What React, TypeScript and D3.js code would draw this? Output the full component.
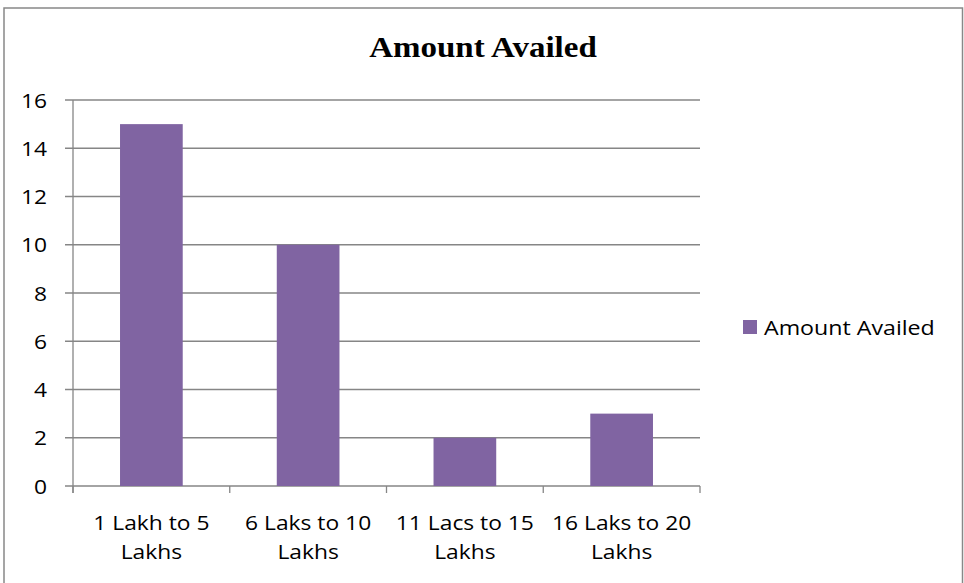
import React from "react";
import * as d3 from "d3";

const categories = ["1 Lakh to 5 Lakhs", "6 Laks to 10 Lakhs", "11 Lacs to 15 Lakhs", "16 Laks to 20 Lakhs"];
const categoryLines = [
  ["1 Lakh to 5", "Lakhs"],
  ["6 Laks to 10", "Lakhs"],
  ["11 Lacs to 15", "Lakhs"],
  ["16 Laks to 20", "Lakhs"],
];
const amountAvailed = [15, 10, 2, 3];
const yTicks = [0, 2, 4, 6, 8, 10, 12, 14, 16];
const seriesName = "Amount Availed";
const chartTitle = "Amount Availed";

const W = 964;
const H = 583;
const plot = { left: 73, right: 700, top: 100, bottom: 486 };
const BAR = "#8064A2";
const GRID = "#868686";
const SANS = "'Open Sans', 'Noto Sans', sans-serif";
const SX = 1.14; // horizontal stretch applied to text

function SText(props: {
  x: number;
  y: number;
  anchor?: "start" | "middle" | "end";
  size: number;
  family?: string;
  weight?: string | number;
  sx?: number;
  children: React.ReactNode;
}) {
  const { x, y, anchor = "start", size, family = SANS, weight = 400, sx = SX, children } = props;
  return (
    <text
      transform={`translate(${x},${y}) scale(${sx},1)`}
      textAnchor={anchor}
      fontSize={size}
      fontFamily={family}
      fontWeight={weight}
      fill="#000"
    >
      {children}
    </text>
  );
}

export default function App() {
  const x = d3
    .scaleBand<string>()
    .domain(categories)
    .range([plot.left, plot.right])
    .paddingInner(0.6)
    .paddingOuter(0.3);
  const y = d3.scaleLinear().domain([0, 16]).range([plot.bottom, plot.top]);
  const step = (plot.right - plot.left) / categories.length;
  const boundaries = d3.range(categories.length + 1).map((i) => plot.left + i * step);

  return (
    <svg
      width={W}
      height={H}
      style={{ position: "absolute", left: 0, top: 0, display: "block", background: "#fff" }}
    >
      <rect x={4} y={8} width={958.5} height={600} fill="#fff" stroke="#888" strokeWidth={1.5} />

      <SText x={483} y={56.5} anchor="middle" size={30} family="'Liberation Serif', serif" weight={700} sx={1.1}>
        {chartTitle}
      </SText>

      {/* horizontal gridlines with short ticks left of the axis */}
      {yTicks.map((t) => (
        <line
          key={`g${t}`}
          x1={65}
          x2={plot.right}
          y1={y(t)}
          y2={y(t)}
          stroke={GRID}
          strokeWidth={1.3}
        />
      ))}

      {/* value axis */}
      <line x1={plot.left} x2={plot.left} y1={plot.top} y2={plot.bottom + 7} stroke={GRID} strokeWidth={1.3} />

      {/* category tick marks */}
      {boundaries.map((bx, i) => (
        <line key={`c${i}`} x1={bx} x2={bx} y1={plot.bottom} y2={plot.bottom + 7} stroke={GRID} strokeWidth={1.3} />
      ))}

      {amountAvailed.map((v, i) => (
        <rect
          key={categories[i]}
          x={x(categories[i])!}
          y={y(v)}
          width={x.bandwidth()}
          height={y(0) - y(v)}
          fill={BAR}
        />
      ))}

      {yTicks.map((t) => (
        <SText key={`yl${t}`} x={47} y={y(t) + 7.5} anchor="end" size={20}>
          {t}
        </SText>
      ))}

      {categoryLines.map((lines, i) => {
        const cx = x(categories[i])! + x.bandwidth() / 2;
        return (
          <g key={`xl${i}`}>
            {lines.map((ln, j) => (
              <SText key={j} x={cx} y={529.5 + j * 29} anchor="middle" size={20}>
                {ln}
              </SText>
            ))}
          </g>
        );
      })}

      <rect x={743} y={320} width={14} height={14} fill={BAR} />
      <SText x={764} y={334.5} size={20} sx={1.16}>
        {seriesName}
      </SText>
    </svg>
  );
}
